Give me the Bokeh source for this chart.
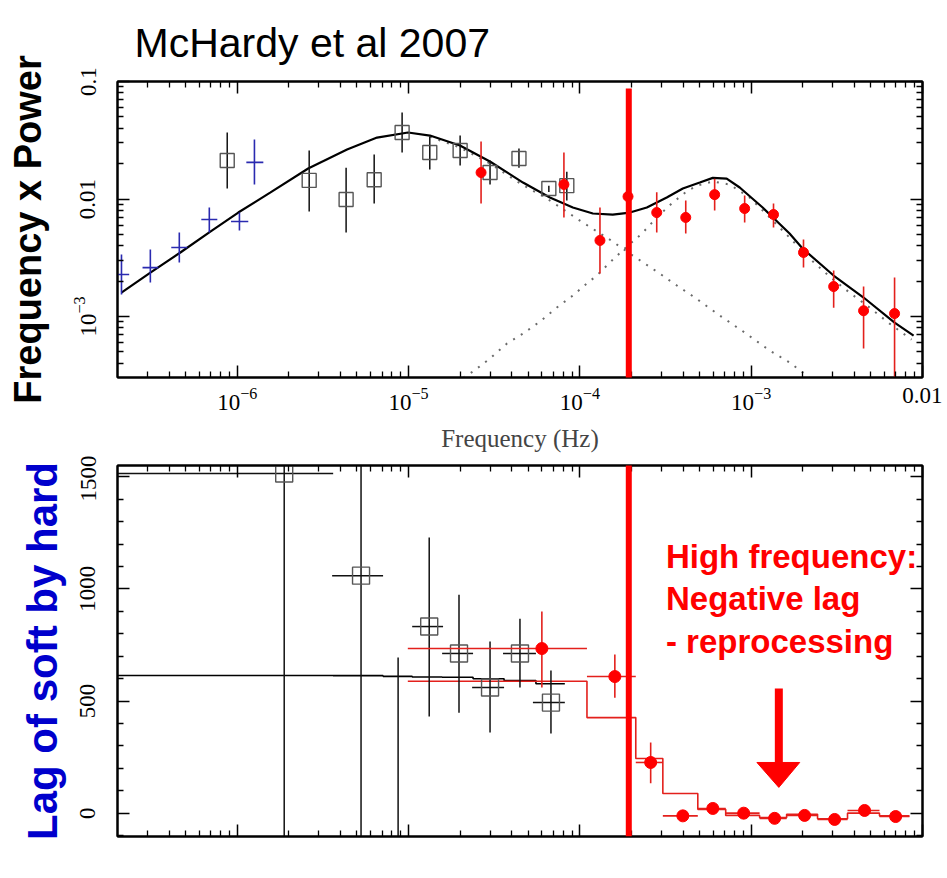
import numpy as np
from bokeh.plotting import figure
from bokeh.models import (Range1d, FixedTicker, LogAxis, LinearAxis, ColumnDataSource,
                          Label, Arrow)
from bokeh.layouts import column
from bokeh.embed import file_html
from bokeh.resources import INLINE

# ---------------- top panel: frequency x power ----------------
# blue crosses (long-timescale data)
blue_f    = [2.11e-7, 3.11e-7, 4.59e-7, 6.87e-7, 1.03e-6, 1.26e-6]
blue_f_lo = [1.89e-7, 2.80e-7, 4.12e-7, 6.17e-7, 9.20e-7, 1.13e-6]
blue_f_hi = [2.34e-7, 3.46e-7, 5.11e-7, 7.65e-7, 1.16e-6, 1.42e-6]
blue_p    = [2.28e-3, 2.61e-3, 3.87e-3, 6.70e-3, 6.44e-3, 2.05e-2]
blue_p_lo = [1.54e-3, 1.95e-3, 2.88e-3, 5.19e-3, 5.40e-3, 1.33e-2]
blue_p_hi = [3.37e-3, 3.72e-3, 5.19e-3, 8.47e-3, 7.67e-3, 3.21e-2]

# black open squares
sq_f    = [8.74e-7, 2.63e-6, 4.32e-6, 6.30e-6, 9.17e-6, 1.33e-5, 2.00e-5, 2.99e-5, 4.41e-5, 6.59e-5, 8.39e-5]
sq_p    = [2.13e-2, 1.44e-2, 9.90e-3, 1.46e-2, 3.68e-2, 2.49e-2, 2.59e-2, 1.68e-2, 2.21e-2, 1.23e-2, 1.30e-2]
sq_p_lo = [1.23e-2, 7.83e-3, 5.19e-3, 9.16e-3, 2.49e-2, 1.78e-2, 1.93e-2, 1.33e-2, 1.85e-2, 1.15e-2, 9.70e-3]
sq_p_hi = [3.68e-2, 2.59e-2, 1.85e-2, 2.39e-2, 5.44e-2, 3.40e-2, 3.47e-2, 2.13e-2, 2.69e-2, 1.30e-2, 1.71e-2]

# red filled circles
rd_f    = [2.65e-5, 8.07e-5, 1.31e-4, 1.91e-4, 2.81e-4, 4.15e-4, 6.12e-4, 9.16e-4, 1.35e-3, 2.02e-3, 3.03e-3, 4.53e-3, 6.87e-3]
rd_p    = [1.68e-2, 1.33e-2, 4.44e-3, 1.05e-2, 7.67e-3, 6.97e-3, 1.09e-2, 8.30e-3, 7.38e-3, 3.51e-3, 1.80e-3, 1.12e-3, 1.06e-3]
rd_p_lo = [9.16e-3, 6.97e-3, 2.32e-3, 1.00e-2, 5.19e-3, 5.08e-3, 7.98e-3, 6.31e-3, 5.72e-3, 2.61e-3, 1.19e-3, 5.35e-4, 2.00e-4]
rd_p_hi = [3.08e-2, 2.49e-2, 8.47e-3, 1.10e-2, 1.14e-2, 9.70e-3, 1.49e-2, 1.07e-2, 9.16e-3, 4.52e-3, 2.46e-3, 1.80e-3, 2.15e-3]

# model curves (log10 frequency, log10 f x P)
model_logf = [-6.676, -6.507, -6.332, -6.157, -5.994, -5.808, -5.586, -5.359, -5.184, -5.003, -4.875,
              -4.700, -4.525, -4.332, -4.175, -4.041, -3.924, -3.808, -3.708, -3.609, -3.493, -3.399,
              -3.300, -3.224, -3.143, -3.067, -2.933, -2.776, -2.700, -2.519, -2.344, -2.163, -2.052]
model_logp = [-2.796, -2.626, -2.455, -2.277, -2.115, -1.945, -1.740, -1.579, -1.477, -1.434, -1.460,
              -1.545, -1.681, -1.860, -1.987, -2.072, -2.123, -2.132, -2.115, -2.072, -1.987, -1.911,
              -1.860, -1.820, -1.826, -1.902, -2.072, -2.294, -2.421, -2.651, -2.838, -3.051, -3.162]
comp1_logf = [-4.875, -4.700, -4.525, -4.338, -4.192, -3.983, -3.843, -3.691, -3.534, -3.417, -3.329,
              -3.184, -3.038, -2.892, -2.776, -2.659]
comp1_logp = [-1.470, -1.562, -1.698, -1.877, -1.996, -2.200, -2.328, -2.481, -2.634, -2.753, -2.838,
              -2.991, -3.136, -3.289, -3.391, -3.519]
comp2_logf = [-4.682, -4.624, -4.525, -4.426, -4.332, -4.233, -4.134, -4.041, -3.953, -3.901, -3.825,
              -3.738, -3.638, -3.551, -3.458, -3.370, -3.312, -3.224, -3.125, -3.009, -2.892, -2.776,
              -2.659, -2.542, -2.426, -2.309, -2.192, -2.064]
comp2_logp = [-3.519, -3.468, -3.357, -3.230, -3.145, -3.043, -2.923, -2.821, -2.711, -2.651, -2.540,
              -2.421, -2.294, -2.157, -2.030, -1.928, -1.885, -1.851, -1.877, -1.987, -2.157, -2.328,
              -2.506, -2.660, -2.796, -2.923, -3.060, -3.196]

# ---------------- bottom panel: lag of soft by hard ----------------
lag_sq_f    = [1.88e-6, 5.28e-6, 8.69e-6, 1.32e-5, 1.97e-5, 2.99e-5, 4.47e-5, 6.78e-5]
lag_sq_f_lo = [1.50e-7, 3.58e-6, 7.10e-6, 1.05e-5, 1.57e-5, 2.35e-5, 3.56e-5, 5.32e-5]
lag_sq_f_hi = [3.63e-6, 7.10e-6, 1.05e-5, 1.59e-5, 2.38e-5, 3.61e-5, 5.54e-5, 8.17e-5]
lag_sq      = [1514, 1059, -300, 832, 712, 560, 712, 493]
lag_sq_lo   = [-400, -400, -900, 431, 448, 360, 560, 355]
lag_sq_hi   = [2200, 2200, 694, 1229, 974, 765, 867, 636]

lag_rd_f    = [6.0e-5, 1.60e-4, 2.59e-4, 3.99e-4, 5.97e-4, 9.04e-4, 1.37e-3, 2.05e-3, 3.07e-3, 4.59e-3, 6.97e-3]
lag_rd_f_lo = [9.9e-6, 1.10e-4, 2.12e-4, 3.05e-4, 4.88e-4, 7.10e-4, 1.12e-3, 1.61e-3, 2.44e-3, 3.65e-3, 5.61e-3]
lag_rd_f_hi = [1.10e-4, 2.12e-4, 3.05e-4, 4.88e-4, 7.10e-4, 1.12e-3, 1.61e-3, 2.44e-3, 3.65e-3, 5.61e-3, 8.39e-3]
lag_rd      = [734, 609, 226, -12, 21, 0, -23, -10, -28, 12, -15]
lag_rd_lo   = [560, 515, 133, -30, 8, -13, -35, -22, -40, 0, -27]
lag_rd_hi   = [899, 707, 315, 6, 34, 13, -11, 2, -16, 24, -3]

# step models
blk_step_edges = [1.5e-7, 3.63e-6, 7.10e-6, 1.05e-5, 1.57e-5, 2.38e-5, 3.61e-5, 5.54e-5, 8.17e-5]
blk_step_vals  = [614, 613, 610, 607, 606, 599, 591, 577]
red_step_edges = [9.9e-6, 1.10e-4, 2.12e-4, 3.05e-4, 4.88e-4, 7.10e-4, 1.12e-3, 1.61e-3, 2.44e-3,
                  3.65e-3, 5.61e-3, 8.39e-3]
red_step_vals  = [588, 426, 244, 88, 17, -10, -20, -5, -25, 0, -12]

# annotations
split_f = 1.93e-4
split_top_p = 0.087
arrow_f = 1.45e-3
arrow_tail, arrow_base, arrow_tip = 556, 226, 115
arrow_head_f = [1.08e-3, 1.92e-3]
note_f, note_lag = 3.18e-4, 1228
note_text = "High frequency:\nNegative lag\n- reprocessing"

RED = "#ff0000"
RED_BAR = "#e3201c"
BLUE = "#2a2ab0"

# ---------------- ticks ----------------
x_major = [1e-6, 1e-5, 1e-4, 1e-3, 1e-2]
x_minor = [m * 10.0 ** e for e in range(-7, -1) for m in range(2, 10) if 2.05e-7 < m * 10.0 ** e < 9.9e-3]
yp_major = [1e-3, 1e-2, 1e-1]
yp_minor = [m * 10.0 ** e for e in range(-4, -1) for m in range(2, 10) if 3.05e-4 < m * 10.0 ** e < 0.099]
yl_major = [0, 500, 1000, 1500]
yl_minor = [v for v in range(-100, 1600, 100) if v not in yl_major]

x_range = Range1d(2.0e-7, 1.0e-2)
SERIF = "Liberation Serif"
SANS = "Liberation Sans"


def style_axis(ax, labels=True, vertical=False, major=None):
    ax.major_tick_in = 12
    ax.major_tick_out = 0
    ax.minor_tick_in = 6
    ax.minor_tick_out = 0
    ax.major_tick_line_color = "black"
    ax.minor_tick_line_color = "black"
    ax.major_tick_line_width = 1.5
    ax.minor_tick_line_width = 1.3
    ax.axis_line_color = "black"
    ax.axis_line_width = 2
    ax.major_label_text_font = SERIF
    ax.major_label_text_color = "black"
    ax.major_label_text_font_size = "23px"
    if vertical:
        ax.major_label_orientation = "vertical"
    if not labels:
        ax.major_label_overrides = {t: "" for t in major}
        ax.major_label_text_font_size = "1px"
        ax.major_label_standoff = 0


def base_fig(y_type, y_range, frame_h, top, bottom):
    p = figure(x_axis_type="log", y_axis_type=y_type, x_range=x_range, y_range=y_range,
               frame_width=805, frame_height=frame_h, min_border_left=117, min_border_right=20,
               min_border_top=top, min_border_bottom=bottom, toolbar_location=None,
               output_backend="svg", background_fill_color="white", border_fill_color="white")
    p.outline_line_color = "black"
    p.outline_line_width = 2
    p.xgrid.visible = False
    p.ygrid.visible = False
    return p


# ================= top figure =================
p1 = base_fig("log", Range1d(3.03e-4, 0.1), 296, 81, 78)
p1.title.text = "McHardy et al 2007"
p1.title.text_font = SANS
p1.title.text_font_style = "normal"
p1.title.text_font_size = "41px"
p1.title.text_color = "black"
p1.title.align = "left"
p1.title.offset = 17
p1.title.standoff = 31

xt = FixedTicker(ticks=x_major, minor_ticks=x_minor)
ytp = FixedTicker(ticks=yp_major, minor_ticks=yp_minor)
p1.xaxis.ticker = xt
p1.yaxis.ticker = ytp
style_axis(p1.xaxis[0])
style_axis(p1.yaxis[0], vertical=True)
p1.xaxis.major_label_overrides = {1e-2: "0.01"}
p1.yaxis.major_label_overrides = {1e-2: "0.01", 1e-1: "0.1"}
p1.xaxis.major_label_standoff = 10
p1.xaxis.axis_label = "Frequency (Hz)"
p1.xaxis.axis_label_text_font = SERIF
p1.xaxis.axis_label_text_font_style = "normal"
p1.xaxis.axis_label_text_font_size = "25px"
p1.xaxis.axis_label_standoff = 12
p1.yaxis.major_label_standoff = 22
p1.yaxis.axis_label = "Frequency x Power"
p1.yaxis.axis_label_text_font = SANS
p1.yaxis.axis_label_text_font_style = "bold"
p1.yaxis.axis_label_text_font_size = "38px"
p1.yaxis.axis_label_text_color = "black"
p1.yaxis.axis_label_standoff = 22

ax_top1 = LogAxis(ticker=xt)
style_axis(ax_top1, labels=False, major=x_major)
p1.add_layout(ax_top1, "above")
ax_right1 = LogAxis(ticker=ytp)
style_axis(ax_right1, labels=False, major=yp_major)
p1.add_layout(ax_right1, "right")

# model curves
p1.line(10 ** np.array(comp1_logf), 10 ** np.array(comp1_logp), line_color="#6a6a6a",
        line_width=2, line_dash="2 7")
p1.line(10 ** np.array(comp2_logf), 10 ** np.array(comp2_logp), line_color="#6a6a6a",
        line_width=2, line_dash="2 7")
p1.line(10 ** np.array(model_logf), 10 ** np.array(model_logp), line_color="black", line_width=2.2)

# blue crosses
bsrc = ColumnDataSource(dict(f=blue_f, flo=blue_f_lo, fhi=blue_f_hi, p=blue_p, plo=blue_p_lo, phi=blue_p_hi))
p1.segment(x0="f", y0="plo", x1="f", y1="phi", source=bsrc, line_color=BLUE, line_width=1.6)
p1.segment(x0="flo", y0="p", x1="fhi", y1="p", source=bsrc, line_color=BLUE, line_width=1.6)

# black squares
ssrc = ColumnDataSource(dict(f=sq_f, p=sq_p, plo=sq_p_lo, phi=sq_p_hi))
p1.segment(x0="f", y0="plo", x1="f", y1="phi", source=ssrc, line_color="#111111", line_width=1.5)
p1.scatter(x="f", y="p", source=ssrc, marker="square", size=14, fill_color=None,
           line_color="#555555", line_width=1.4)

# red circles
rsrc = ColumnDataSource(dict(f=rd_f, p=rd_p, plo=rd_p_lo, phi=rd_p_hi))
p1.segment(x0="f", y0="plo", x1="f", y1="phi", source=rsrc, line_color=RED_BAR, line_width=1.6)
p1.scatter(x="f", y="p", source=rsrc, marker="circle", size=10, fill_color=RED, line_color=RED)

p1.add_layout(Arrow(end=None, x_start=split_f, y_start=split_top_p, x_end=split_f, y_end=1e-6,
                    line_color=RED, line_width=6))

# ================= bottom figure =================
p2 = base_fig("linear", Range1d(-104, 1550), 371, 10, 34)
p2.xaxis.ticker = xt
ytl = FixedTicker(ticks=yl_major, minor_ticks=yl_minor)
p2.yaxis.ticker = ytl
style_axis(p2.xaxis[0], labels=False, major=x_major)
style_axis(p2.yaxis[0], vertical=True)
p2.yaxis.major_label_standoff = 22
p2.yaxis.axis_label = "Lag of soft by hard"
p2.yaxis.axis_label_text_font = SANS
p2.yaxis.axis_label_text_font_style = "bold"
p2.yaxis.axis_label_text_font_size = "42px"
p2.yaxis.axis_label_text_color = "#0000cc"
p2.yaxis.axis_label_standoff = 12

ax_top2 = LogAxis(ticker=xt)
style_axis(ax_top2, labels=False, major=x_major)
p2.add_layout(ax_top2, "above")
ax_right2 = LinearAxis(ticker=ytl)
style_axis(ax_right2, labels=False, major=yl_major)
p2.add_layout(ax_right2, "right")

# step models
p2.step(x=blk_step_edges, y=blk_step_vals + blk_step_vals[-1:], mode="after",
        line_color="black", line_width=1.6)
p2.step(x=red_step_edges, y=red_step_vals + red_step_vals[-1:], mode="after",
        line_color=RED_BAR, line_width=1.6)

# black squares
lsrc = ColumnDataSource(dict(f=lag_sq_f, flo=lag_sq_f_lo, fhi=lag_sq_f_hi, l=lag_sq, llo=lag_sq_lo, lhi=lag_sq_hi))
p2.segment(x0="f", y0="llo", x1="f", y1="lhi", source=lsrc, line_color="#111111", line_width=1.5)
p2.segment(x0="flo", y0="l", x1="fhi", y1="l", source=lsrc, line_color="#111111", line_width=1.5)
p2.scatter(x="f", y="l", source=lsrc, marker="square", size=17, fill_color=None,
           line_color="#555555", line_width=1.4)

# red circles
lrsrc = ColumnDataSource(dict(f=lag_rd_f, flo=lag_rd_f_lo, fhi=lag_rd_f_hi, l=lag_rd, llo=lag_rd_lo, lhi=lag_rd_hi))
p2.segment(x0="f", y0="llo", x1="f", y1="lhi", source=lrsrc, line_color=RED_BAR, line_width=1.6)
p2.segment(x0="flo", y0="l", x1="fhi", y1="l", source=lrsrc, line_color=RED_BAR, line_width=1.6)
p2.scatter(x="f", y="l", source=lrsrc, marker="circle", size=12, fill_color=RED, line_color=RED)

# big arrow
p2.segment(x0=[arrow_f], y0=[arrow_tail], x1=[arrow_f], y1=[arrow_base], line_color=RED, line_width=8)
p2.patch(x=[arrow_head_f[0], arrow_head_f[1], arrow_f], y=[arrow_base, arrow_base, arrow_tip],
         fill_color=RED, line_color=RED)

p2.add_layout(Label(x=note_f, y=note_lag, text=note_text, text_font=SANS, text_font_style="bold",
                    text_font_size="33px", text_color=RED, text_baseline="top",
                    text_line_height=1.15))
p2.add_layout(Arrow(end=None, x_start=split_f, y_start=3000, x_end=split_f, y_end=-104,
                    line_color=RED, line_width=6))

layout = column(p1, p2, spacing=0)
open("out.html", "w").write(file_html(layout, INLINE))
